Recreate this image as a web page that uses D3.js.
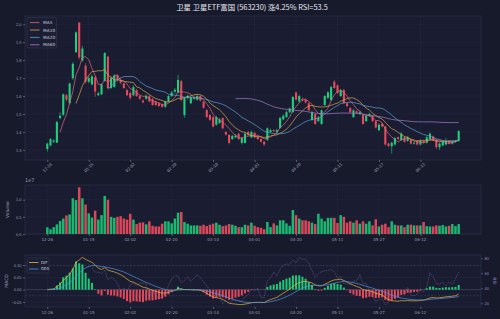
<!DOCTYPE html>
<html>
<head>
<meta charset="utf-8">
<script src="https://cdn.jsdelivr.net/npm/d3@7"></script>
<style>
body { margin: 0; background: #171a2b; }
svg { display: block; font-family: "DejaVu Sans", sans-serif; }
</style>
</head>
<body>
<svg id="chart" width="500" height="319"></svg>
<script>
// ---- data ----
const title = '卫星 卫星ETF富国 (563230) 涨4.25%  RSI=53.5';
const tickIndex = [0, 13, 26, 39, 52, 65, 78, 91, 104, 117];
const tickLabels = ['12-26', '01-15', '02-02', '02-20', '03-10', '04-01', '04-20', '05-11', '05-27', '06-12'];

const openPrices = [
    1.305, 1.325, 1.345, 1.340, 1.478, 1.495, 1.605, 1.560, 1.700, 1.845,
    2.010, 1.800, 1.770, 1.680, 1.665, 1.705, 1.605, 1.610, 1.685, 1.820,
    1.645, 1.650, 1.715, 1.690, 1.670, 1.633, 1.617, 1.605, 1.633, 1.600,
    1.575, 1.585, 1.600, 1.583, 1.570, 1.560, 1.555, 1.540, 1.570, 1.600,
    1.625, 1.620, 1.683, 1.494, 1.590, 1.560, 1.585, 1.580, 1.600, 1.568,
    1.522, 1.494, 1.483, 1.440, 1.450, 1.478, 1.400, 1.383, 1.360, 1.370,
    1.390, 1.339, 1.339, 1.400, 1.370, 1.395, 1.375, 1.360, 1.345, 1.356,
    1.400, 1.410, 1.400, 1.422, 1.470, 1.483, 1.510, 1.510, 1.620, 1.570,
    1.585, 1.580, 1.560, 1.467, 1.500, 1.460, 1.444, 1.550, 1.590, 1.578,
    1.680, 1.660, 1.600, 1.633, 1.560, 1.533, 1.483, 1.515, 1.500, 1.494,
    1.460, 1.490, 1.490, 1.460, 1.410, 1.445, 1.430, 1.335, 1.320, 1.330,
    1.370, 1.355, 1.370, 1.350, 1.355, 1.335, 1.350, 1.330, 1.350, 1.340,
    1.360, 1.375, 1.355, 1.315, 1.325, 1.330, 1.350, 1.335, 1.345, 1.350,
];
const closePrices = [
    1.335, 1.360, 1.352, 1.455, 1.490, 1.610, 1.580, 1.670, 1.780, 1.955,
    1.815, 1.865, 1.680, 1.700, 1.710, 1.625, 1.615, 1.665, 1.840, 1.645,
    1.700, 1.715, 1.690, 1.675, 1.645, 1.605, 1.590, 1.650, 1.600, 1.585,
    1.565, 1.600, 1.570, 1.550, 1.550, 1.545, 1.540, 1.570, 1.600, 1.620,
    1.635, 1.690, 1.578, 1.589, 1.600, 1.595, 1.590, 1.600, 1.575, 1.535,
    1.483, 1.467, 1.430, 1.483, 1.470, 1.420, 1.385, 1.339, 1.378, 1.380,
    1.360, 1.367, 1.390, 1.385, 1.400, 1.370, 1.360, 1.345, 1.330, 1.420,
    1.410, 1.405, 1.410, 1.478, 1.490, 1.510, 1.530, 1.595, 1.580, 1.600,
    1.578, 1.565, 1.520, 1.510, 1.444, 1.480, 1.520, 1.600, 1.620, 1.650,
    1.645, 1.617, 1.633, 1.560, 1.544, 1.510, 1.520, 1.505, 1.510, 1.444,
    1.490, 1.500, 1.460, 1.425, 1.440, 1.430, 1.330, 1.322, 1.340, 1.365,
    1.360, 1.390, 1.345, 1.370, 1.335, 1.340, 1.330, 1.350, 1.340, 1.370,
    1.390, 1.355, 1.315, 1.335, 1.345, 1.350, 1.335, 1.345, 1.348, 1.405,
];
const highPrices = [
    1.340, 1.365, 1.360, 1.462, 1.510, 1.615, 1.612, 1.675, 1.790, 1.960,
    2.010, 1.880, 1.785, 1.712, 1.720, 1.710, 1.625, 1.672, 1.845, 1.825,
    1.712, 1.722, 1.720, 1.700, 1.675, 1.640, 1.625, 1.660, 1.640, 1.608,
    1.582, 1.608, 1.605, 1.590, 1.575, 1.565, 1.560, 1.575, 1.605, 1.628,
    1.645, 1.718, 1.690, 1.595, 1.610, 1.600, 1.600, 1.610, 1.605, 1.572,
    1.528, 1.500, 1.488, 1.490, 1.478, 1.482, 1.405, 1.388, 1.385, 1.388,
    1.395, 1.372, 1.398, 1.405, 1.408, 1.400, 1.380, 1.365, 1.350, 1.425,
    1.418, 1.415, 1.418, 1.485, 1.498, 1.520, 1.538, 1.600, 1.625, 1.608,
    1.592, 1.585, 1.565, 1.518, 1.505, 1.488, 1.525, 1.605, 1.628, 1.658,
    1.690, 1.665, 1.640, 1.640, 1.565, 1.540, 1.528, 1.520, 1.518, 1.500,
    1.495, 1.508, 1.495, 1.465, 1.448, 1.450, 1.435, 1.340, 1.345, 1.372,
    1.375, 1.398, 1.375, 1.378, 1.360, 1.348, 1.355, 1.358, 1.355, 1.378,
    1.398, 1.380, 1.360, 1.342, 1.352, 1.365, 1.355, 1.352, 1.355, 1.410,
];
const lowPrices = [
    1.290, 1.320, 1.338, 1.338, 1.470, 1.490, 1.570, 1.552, 1.690, 1.840,
    1.805, 1.790, 1.670, 1.672, 1.660, 1.595, 1.600, 1.605, 1.680, 1.640,
    1.640, 1.648, 1.680, 1.665, 1.640, 1.600, 1.580, 1.600, 1.595, 1.578,
    1.560, 1.580, 1.565, 1.545, 1.545, 1.540, 1.535, 1.535, 1.565, 1.595,
    1.615, 1.615, 1.570, 1.480, 1.580, 1.555, 1.578, 1.575, 1.570, 1.530,
    1.478, 1.460, 1.425, 1.435, 1.445, 1.415, 1.380, 1.330, 1.355, 1.365,
    1.355, 1.330, 1.335, 1.378, 1.365, 1.365, 1.355, 1.340, 1.322, 1.350,
    1.395, 1.398, 1.395, 1.418, 1.465, 1.478, 1.505, 1.505, 1.575, 1.565,
    1.570, 1.558, 1.515, 1.460, 1.440, 1.455, 1.440, 1.545, 1.585, 1.572,
    1.640, 1.610, 1.595, 1.555, 1.538, 1.505, 1.478, 1.500, 1.495, 1.440,
    1.455, 1.485, 1.455, 1.420, 1.405, 1.425, 1.325, 1.315, 1.280, 1.325,
    1.355, 1.350, 1.340, 1.345, 1.330, 1.330, 1.325, 1.325, 1.335, 1.335,
    1.355, 1.350, 1.305, 1.300, 1.320, 1.325, 1.330, 1.330, 1.338, 1.345,
];
// volume in units of 1e7
const volumes = [
    0.196, 0.137, 0.20, 0.28, 0.38, 0.45, 0.54, 0.57, 1.04, 0.99,
    1.36, 1.04, 0.86, 0.60, 0.48, 0.68, 0.42, 0.55, 1.11, 1.00,
    0.50, 0.47, 0.50, 0.52, 0.45, 0.42, 0.59, 0.42, 0.29, 0.33,
    0.34, 0.28, 0.37, 0.24, 0.22, 0.22, 0.30, 0.37, 0.37, 0.31,
    0.45, 0.62, 0.64, 0.35, 0.30, 0.25, 0.25, 0.25, 0.24, 0.27,
    0.23, 0.27, 0.30, 0.33, 0.27, 0.23, 0.25, 0.29, 0.27, 0.24,
    0.20, 0.20, 0.27, 0.25, 0.33, 0.24, 0.20, 0.18, 0.14, 0.35,
    0.20, 0.31, 0.25, 0.40, 0.40, 0.31, 0.24, 0.70, 0.55, 0.45,
    0.40, 0.40, 0.37, 0.33, 0.29, 0.59, 0.45, 0.37, 0.47, 0.47,
    0.47, 0.32, 0.55, 0.50, 0.33, 0.37, 0.33, 0.40, 0.30, 0.37,
    0.30, 0.37, 0.25, 0.43, 0.22, 0.27, 0.30, 0.20, 0.37, 0.27,
    0.25, 0.25, 0.20, 0.27, 0.27, 0.25, 0.25, 0.25, 0.35, 0.23,
    0.22, 0.22, 0.25, 0.24, 0.26, 0.22, 0.24, 0.29, 0.23, 0.29,
];
const maPeriods = [5, 10, 20, 60];
const maColors = ['#e0677e', '#d8a94a', '#5f9fd8', '#a57cc8'];

// ---- indicators (computed from closes) ----
const sma = (vals, n) => vals.map((v, i) => (i < n - 1 ? null : d3.mean(vals.slice(i - n + 1, i + 1))));
const ema = (vals, n) => {
    const a = 2 / (n + 1);
    const out = [];
    vals.forEach((v, i) => out.push(i === 0 ? v : a * v + (1 - a) * out[i - 1]));
    return out;
};
const rsiCalc = (vals, n) => {
    const gain = vals.map((v, i) => (i === 0 ? null : Math.max(v - vals[i - 1], 0)));
    const loss = vals.map((v, i) => (i === 0 ? null : Math.max(vals[i - 1] - v, 0)));
    return vals.map((v, i) => {
        if (i < n) return null;
        const g = d3.mean(gain.slice(i - n + 1, i + 1));
        const l = d3.mean(loss.slice(i - n + 1, i + 1));
        return l === 0 ? 100 : 100 - 100 / (1 + g / l);
    });
};
const ema12 = ema(closePrices, 12);
const ema26 = ema(closePrices, 26);
const dif = ema12.map((v, i) => v - ema26[i]);
const dea = ema(dif, 9);
const hist = dif.map((v, i) => 2 * (v - dea[i]));
const rsi = rsiCalc(closePrices, 14);

// ---- layout ----
const W = 500;
const left = 25;
const right = 481;
const panels = {
    main: { top: 16, bottom: 160 },
    vol: { top: 185, bottom: 234 },
    macd: { top: 255, bottom: 307 },
};
const up = '#1fcf7e';
const down = '#e8495c';
const tickColor = '#9a9cb0';
const gridColor = 'rgba(255,255,255,0.06)';

const svg = d3.select('#chart');
svg.append('rect').attr('width', W).attr('height', 319).attr('fill', '#171a2b');

const xScale = d3.scaleLinear([-7, 136], [left, right]);
const idx = d3.range(closePrices.length);
const isUp = i => closePrices[i] >= openPrices[i];

const pad = (lo, hi) => [lo - (hi - lo) * 0.05, hi + (hi - lo) * 0.05];

function panelFrame(p, yScale, yTicks, fmt) {
    const g = svg.append('g');
    g.append('rect').
    attr('x', left).attr('y', p.top).
    attr('width', right - left).attr('height', p.bottom - p.top).
    attr('fill', '#1a1d31').attr('stroke', '#2e3250').attr('stroke-width', 0.6);
    // grid
    g.selectAll('.gx').data(tickIndex).enter().append('line').
    attr('x1', d => xScale(d)).attr('x2', d => xScale(d)).
    attr('y1', p.top).attr('y2', p.bottom).
    attr('stroke', gridColor).attr('stroke-width', 0.5);
    g.selectAll('.gy').data(yTicks).enter().append('line').
    attr('x1', left).attr('x2', right).
    attr('y1', d => yScale(d)).attr('y2', d => yScale(d)).
    attr('stroke', gridColor).attr('stroke-width', 0.5);
    // y axis
    const yAxis = d3.axisLeft(yScale).tickValues(yTicks).tickSize(2).tickPadding(1.5).tickFormat(fmt);
    const ya = g.append('g').attr('transform', `translate(${left},0)`).call(yAxis);
    ya.select('.domain').remove();
    ya.selectAll('line').attr('stroke', tickColor).attr('stroke-width', 0.5);
    ya.selectAll('text').attr('fill', tickColor).style('font-size', '4px');
    // x ticks
    const xAxis = d3.axisBottom(xScale).tickValues(tickIndex).tickSize(2).tickFormat('');
    const xa = g.append('g').attr('transform', `translate(0,${p.bottom})`).call(xAxis);
    xa.select('.domain').remove();
    xa.selectAll('line').attr('stroke', tickColor).attr('stroke-width', 0.5);
    return g;
}

// ---- main price panel ----
const pm = panels.main;
const priceY = d3.scaleLinear(pad(d3.min(lowPrices), d3.max(highPrices)), [pm.bottom, pm.top]);
panelFrame(pm, priceY, [1.3, 1.4, 1.5, 1.6, 1.7, 1.8, 1.9, 2.0], d3.format('.1f'));

// rotated date labels under main panel
svg.selectAll('.mainLabel').data(tickIndex).enter().append('text').
attr('transform', (d) => `translate(${xScale(d)},${pm.bottom + 7.5}) rotate(-45)`).
attr('text-anchor', 'middle').attr('dy', '0.35em').
attr('fill', tickColor).style('font-size', '4px').
text((d, i) => tickLabels[i]);

// candles
const candles = svg.append('g');
candles.selectAll('.wick').data(idx).enter().append('line').
attr('x1', i => xScale(i)).attr('x2', i => xScale(i)).
attr('y1', i => priceY(highPrices[i])).attr('y2', i => priceY(lowPrices[i])).
attr('stroke', i => (isUp(i) ? up : down)).attr('stroke-width', 0.6);
const bodyW = 2.1;
candles.selectAll('.body').data(idx).enter().append('rect').
attr('x', i => xScale(i) - bodyW / 2).attr('width', bodyW).
attr('y', i => priceY(Math.max(openPrices[i], closePrices[i]))).
attr('height', i => Math.max(0.6, Math.abs(priceY(openPrices[i]) - priceY(closePrices[i])))).
attr('fill', i => (isUp(i) ? up : down));

// moving averages
maPeriods.forEach((n, k) => {
    const vals = sma(closePrices, n);
    const line = d3.line().defined(d => d !== null).x((d, i) => xScale(i)).y(d => priceY(d));
    svg.append('path').attr('d', line(vals)).
    attr('fill', 'none').attr('stroke', maColors[k]).attr('stroke-width', 0.7);
});

// legend
const lg = svg.append('g');
lg.append('rect').attr('x', 27).attr('y', 17.5).attr('width', 29.5).attr('height', 30.5).attr('rx', 1).
attr('fill', '#1c1f34').attr('stroke', '#363a56').attr('stroke-width', 0.5);
maPeriods.forEach((n, k) => {
    const y = 22.6 + k * 7.4;
    lg.append('line').attr('x1', 30).attr('x2', 39.5).attr('y1', y).attr('y2', y).
    attr('stroke', maColors[k]).attr('stroke-width', 0.8);
    lg.append('text').attr('x', 43).attr('y', y).attr('dy', '0.35em').
    attr('fill', '#c8c9d6').style('font-size', '4.3px').text(`MA${n}`);
});

// title
svg.append('text').attr('x', 252).attr('y', 7.5).attr('text-anchor', 'middle').attr('dy', '0.35em').
attr('fill', '#e6e6ee').style('font-family', '"Noto Sans CJK SC", sans-serif').style('font-size', '7.4px').
text(title);

// ---- volume panel ----
const pv = panels.vol;
const volY = d3.scaleLinear([0, d3.max(volumes) * 1.05], [pv.bottom, pv.top]);
panelFrame(pv, volY, [0, 0.5, 1.0], d3.format('.1f'));
svg.selectAll('.vol').data(idx).enter().append('rect').
attr('x', i => xScale(i) - 1.25).attr('width', 2.5).
attr('y', i => volY(volumes[i])).attr('height', i => volY(0) - volY(volumes[i])).
attr('fill', i => (isUp(i) ? '#1ab870' : '#d8475a'));
svg.selectAll('.volLabel').data(tickIndex).enter().append('text').
attr('x', d => xScale(d)).attr('y', pv.bottom + 6.5).attr('text-anchor', 'middle').
attr('fill', tickColor).style('font-size', '4px').text((d, i) => tickLabels[i]);
svg.append('text').attr('x', left).attr('y', pv.top - 3).attr('fill', tickColor).
style('font-size', '5px').text('1e7');
svg.append('text').attr('transform', `translate(9,${(pv.top + pv.bottom) / 2}) rotate(-90)`).
attr('text-anchor', 'middle').attr('fill', tickColor).style('font-size', '4.5px').text('Volume');

// ---- MACD panel ----
const pc = panels.macd;
const macdExt = d3.extent([...dif, ...dea, ...hist]);
const macdY = d3.scaleLinear(pad(macdExt[0], macdExt[1]), [pc.bottom, pc.top]);
panelFrame(pc, macdY, [-0.05, 0, 0.05, 0.1], d3.format('.2f'));
const rsiVals = rsi.filter(v => v !== null);
const rsiY = d3.scaleLinear(pad(d3.min(rsiVals), d3.max(rsiVals)), [pc.bottom, pc.top]);

// RSI reference lines
[70, 30].forEach((v) => {
    svg.append('line').attr('x1', left).attr('x2', right).
    attr('y1', rsiY(v)).attr('y2', rsiY(v)).
    attr('stroke', '#4a4470').attr('stroke-width', 0.5).attr('stroke-dasharray', '2,1.5');
});
svg.append('line').attr('x1', left).attr('x2', right).
attr('y1', macdY(0)).attr('y2', macdY(0)).attr('stroke', '#55586e').attr('stroke-width', 0.5);

svg.selectAll('.hist').data(idx).enter().append('rect').
attr('x', i => xScale(i) - 1).attr('width', 2).
attr('y', i => Math.min(macdY(hist[i]), macdY(0))).
attr('height', i => Math.abs(macdY(hist[i]) - macdY(0))).
attr('fill', i => (hist[i] >= 0 ? '#1fc879' : '#e0495c'));

const macdLine = d3.line().x((d, i) => xScale(i)).y(d => macdY(d));
svg.append('path').attr('d', macdLine(dif)).attr('fill', 'none').attr('stroke', '#e9b53c').attr('stroke-width', 0.7);
svg.append('path').attr('d', macdLine(dea)).attr('fill', 'none').attr('stroke', '#4f95dc').attr('stroke-width', 0.7);
const rsiLine = d3.line().defined(d => d !== null).x((d, i) => xScale(i)).y(d => rsiY(d));
svg.append('path').attr('d', rsiLine(rsi)).attr('fill', 'none').
attr('stroke', '#8a72b8').attr('stroke-width', 0.55).attr('stroke-dasharray', '1.4,0.8').attr('opacity', 0.8);

// right RSI axis
const rAxis = d3.axisRight(rsiY).tickValues([20, 40, 60, 80]).tickSize(2).tickPadding(1.5);
const ra = svg.append('g').attr('transform', `translate(${right},0)`).call(rAxis);
ra.select('.domain').remove();
ra.selectAll('line').attr('stroke', '#8a72b8').attr('stroke-width', 0.5);
ra.selectAll('text').attr('fill', '#9a86c4').style('font-size', '4px');
svg.append('text').attr('transform', `translate(493,${(pc.top + pc.bottom) / 2}) rotate(90)`).
attr('text-anchor', 'middle').attr('fill', '#9a86c4').style('font-size', '4.5px').text('RSI');

svg.selectAll('.macdLabel').data(tickIndex).enter().append('text').
attr('x', d => xScale(d)).attr('y', pc.bottom + 6.5).attr('text-anchor', 'middle').
attr('fill', tickColor).style('font-size', '4px').text((d, i) => tickLabels[i]);
svg.append('text').attr('transform', `translate(8,${(pc.top + pc.bottom) / 2}) rotate(-90)`).
attr('text-anchor', 'middle').attr('fill', tickColor).style('font-size', '4.5px').text('MACD');

// MACD legend
const ml = svg.append('g');
ml.append('rect').attr('x', 27).attr('y', 258).attr('width', 22).attr('height', 15).attr('rx', 1).
attr('fill', '#1c1f34').attr('stroke', '#363a56').attr('stroke-width', 0.5);
[['DIF', '#e9b53c'], ['DEA', '#4f95dc']].forEach(([name, color], k) => {
    const y = 262.5 + k * 6.5;
    ml.append('line').attr('x1', 29).attr('x2', 38.5).attr('y1', y).attr('y2', y).
    attr('stroke', color).attr('stroke-width', 0.8);
    ml.append('text').attr('x', 41).attr('y', y).attr('dy', '0.35em').
    attr('fill', '#c8c9d6').style('font-size', '4px').text(name);
});
</script>
</body>
</html>
